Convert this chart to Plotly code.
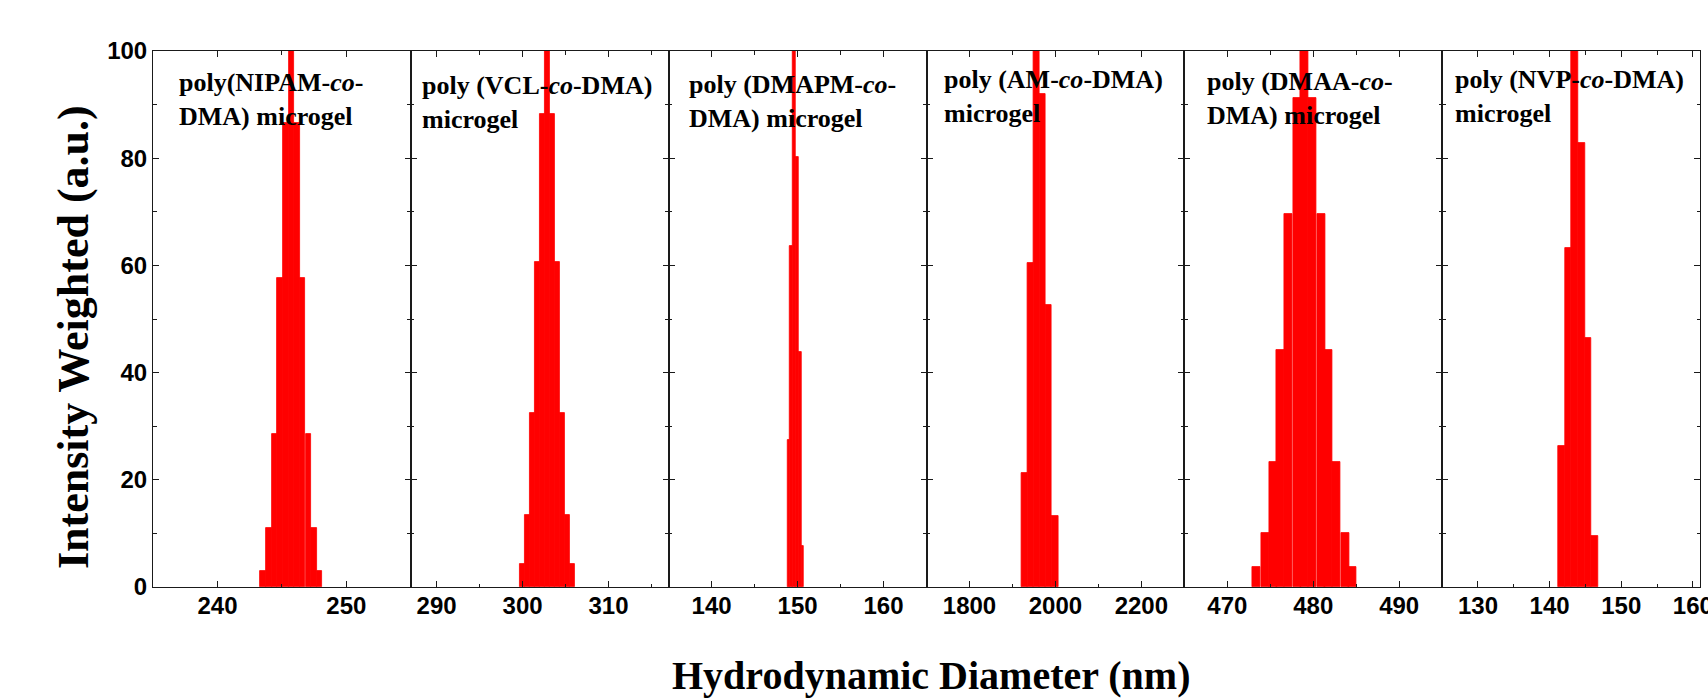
import plotly.graph_objects as go

# ---------------- data ----------------
panel_labels = [
    "poly(NIPAM-<i>co</i>-<br>DMA) microgel",
    "poly (VCL-<i>co</i>-DMA)<br>microgel",
    "poly (DMAPM-<i>co</i>-<br>DMA) microgel",
    "poly (AM-<i>co</i>-DMA)<br>microgel",
    "poly (DMAA-<i>co</i>-<br>DMA) microgel",
    "poly (NVP-<i>co</i>-DMA)<br>microgel",
]

nipam_x = [243.55, 243.99, 244.43, 244.86, 245.30, 245.74, 246.17, 246.61, 247.05, 247.48, 247.92]
nipam_y = [3.0, 11.0, 28.6, 57.6, 86.5, 100.0, 86.5, 57.6, 28.6, 11.0, 3.0]

vcl_x = [299.98, 300.56, 301.14, 301.72, 302.30, 302.88, 303.45, 304.03, 304.61, 305.19, 305.77]
vcl_y = [4.3, 13.4, 32.5, 60.6, 88.2, 100.0, 88.2, 60.6, 32.5, 13.4, 4.3]

dmapm_x = [148.96, 149.29, 149.61, 149.94, 150.26, 150.59]
dmapm_y = [27.5, 63.7, 100.0, 80.2, 43.9, 7.7]

am_x = [1929, 1943, 1957, 1971, 1985, 1999]
am_y = [21.3, 60.5, 100.0, 91.9, 52.6, 13.3]

dmaa_x = [473.4, 474.4, 475.3, 476.2, 477.1, 478.1, 479.0, 479.9, 480.9, 481.8, 482.7, 483.7, 484.6]
dmaa_y = [3.7, 10.1, 23.3, 44.2, 69.6, 91.2, 100.0, 91.2, 69.6, 44.2, 23.3, 10.1, 3.7]

nvp_x = [141.68, 142.60, 143.52, 144.45, 145.37, 146.29]
nvp_y = [26.4, 63.2, 100.0, 82.9, 46.4, 9.5]

series_x = [nipam_x, vcl_x, dmapm_x, am_x, dmaa_x, nvp_x]
series_y = [nipam_y, vcl_y, dmapm_y, am_y, dmaa_y, nvp_y]
bar_widths = [0.437, 0.579, 0.325, 14.0, 0.935, 0.92]

x_ranges = [[235, 255], [287, 317], [135, 165], [1700, 2300], [465, 495], [125, 161]]
x_dticks = [10, 10, 10, 200, 10, 10]
x_minor = [5, 5, 5, 100, 5, 5]

y_range = [0, 100]
y_dtick = 20
y_minor = 10

x_title = "Hydrodynamic Diameter (nm)"
y_title = "Intensity Weighted (a.u.)"

# ---------------- figure ----------------
W, H = 1708, 699
ML, MR, MT, MB = 153, 8, 51, 112
PW = W - ML - MR
PH = H - MT - MB

AX_COLOR = "#1a1a1a"
TICK_FONT = dict(family="Arial, Liberation Sans, sans-serif", size=24, color="black", weight="bold")
SERIF = "Times New Roman, Liberation Serif, serif"

fig = go.Figure()
n = len(series_x)
for i in range(n):
    sfx = "" if i == 0 else str(i + 1)
    fig.add_trace(go.Bar(
        x=series_x[i], y=series_y[i], width=bar_widths[i],
        marker=dict(color="#ff0000", line=dict(width=0.8, color="#ff0000")),
        xaxis="x" + sfx, yaxis="y" + sfx, showlegend=False,
    ))
    common = dict(showline=True, linecolor=AX_COLOR, linewidth=1, mirror="ticks",
                  ticks="inside", ticklen=6, tickwidth=1.3, tickcolor=AX_COLOR,
                  showgrid=False, zeroline=False, tickfont=TICK_FONT, automargin=False)
    fig.update_layout(**{
        "xaxis" + sfx: dict(
            domain=[i / n, (i + 1) / n], anchor="y" + sfx,
            range=x_ranges[i], dtick=x_dticks[i], tick0=0,
            ticklabelstandoff=-3, ticklabeloverflow="allow",
            minor=dict(ticks="inside", dtick=x_minor[i], ticklen=3.5, tickwidth=1.2, tickcolor=AX_COLOR),
            **common),
        "yaxis" + sfx: dict(
            domain=[0, 1], anchor="x" + sfx, range=y_range, dtick=y_dtick,
            minor=dict(ticks="inside", dtick=y_minor, ticklen=3.5, tickwidth=1.2, tickcolor=AX_COLOR),
            showticklabels=(i == 0), **common),
    })

def px_to_paper(xp, yp):
    return (xp - ML) / PW, (H - MB - yp) / PH

label_pos = [(177, 100), (420, 102), (687, 101), (942, 97), (1205, 98), (1453, 97)]
annotations = []
for txt, (lx, ly) in zip(panel_labels, label_pos):
    ax_, ay_ = px_to_paper(lx, ly)
    annotations.append(dict(text="<b>" + txt + "</b>", x=ax_, y=ay_, xref="paper", yref="paper",
                            xanchor="left", yanchor="middle", align="left", showarrow=False,
                            font=dict(family=SERIF, size=26, color="black")))

tx, ty = px_to_paper(931, 675)
annotations.append(dict(text="<b>" + x_title + "</b>", x=tx, y=ty, xref="paper", yref="paper",
                        xanchor="center", yanchor="middle", showarrow=False,
                        font=dict(family=SERIF, size=40, color="black")))
tx, ty = px_to_paper(74, 337)
annotations.append(dict(text="<b>" + y_title + "</b>", x=tx, y=ty, xref="paper", yref="paper",
                        xanchor="center", yanchor="middle", showarrow=False, textangle=-90,
                        font=dict(family=SERIF, size=44, color="black")))

fig.update_layout(
    width=W, height=H,
    margin=dict(l=ML, r=MR, t=MT, b=MB, autoexpand=False),
    paper_bgcolor="white", plot_bgcolor="white",
    bargap=0, annotations=annotations,
)

fig.write_html("out.html", config={"displayModeBar": False})
